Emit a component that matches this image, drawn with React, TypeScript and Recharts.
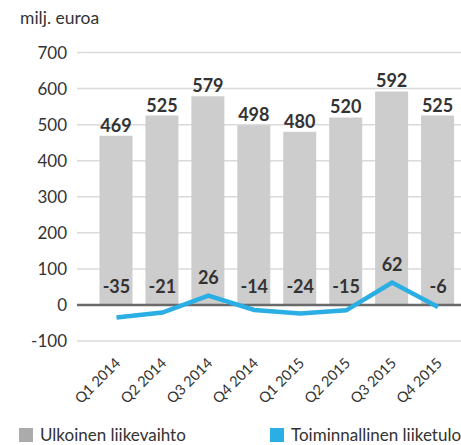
import React from 'react';
import {
  ComposedChart,
  Bar,
  Line,
  XAxis,
  YAxis,
  CartesianGrid,
  ReferenceLine,
  LabelList,
} from 'recharts';

const categories = ['Q1 2014', 'Q2 2014', 'Q3 2014', 'Q4 2014', 'Q1 2015', 'Q2 2015', 'Q3 2015', 'Q4 2015'];
const revenue = [469, 525, 579, 498, 480, 520, 592, 525];
const operatingProfit = [-35, -21, 26, -14, -24, -15, 62, -6];
const yTicks = [-100, 0, 100, 200, 300, 400, 500, 600, 700];
const unitLabel = 'milj. euroa';
const revenueName = 'Ulkoinen liikevaihto';
const profitName = 'Toiminnallinen liiketulos';

const data = categories.map((q, i) => ({ q, revenue: revenue[i], profit: operatingProfit[i] }));

const FONT = 'Lato, "Open Sans", sans-serif';
const W = 461;
const H = 445;
const PLOT_TOP = 52.5;
const PLOT_BOTTOM = 341;
const DOMAIN_MIN = -100;
const DOMAIN_MAX = 700;
const PX_PER_UNIT = (PLOT_BOTTOM - PLOT_TOP) / (DOMAIN_MAX - DOMAIN_MIN);

const BAR_COLOR = '#cdcdcd';
const LEGEND_GRAY = '#ababab';
const LINE_COLOR = '#2aaee4';
const TEXT = '#333333';

const XTick = (props: any) => {
  const { x, y, payload } = props;
  return (
    <g transform={`translate(${x + 5},${y + 23})`}>
      <text textAnchor="end" transform="rotate(-45)" fontSize={14.5} fill={TEXT} fontFamily={FONT}>
        {payload.value}
      </text>
    </g>
  );
};

const ProfitLabel = (props: any) => {
  const { x, y, value } = props;
  const zeroY = y + value * PX_PER_UNIT;
  const ly = Math.min(y, zeroY) - 19;
  return (
    <text
      x={x}
      y={ly}
      textAnchor="middle"
      dominantBaseline="central"
      fontSize={18}
      fontWeight={700}
      fill={TEXT}
      fontFamily={FONT}
    >
      {value}
    </text>
  );
};

export default function App() {
  return (
    <div
      style={{
        position: 'absolute',
        left: 0,
        top: 0,
        width: W,
        height: H,
        overflow: 'hidden',
        background: '#fff',
        fontFamily: FONT,
      }}
    >
      <div style={{ position: 'absolute', left: 20, top: 6, fontSize: 17.5, color: TEXT, lineHeight: '24px' }}>
        {unitLabel}
      </div>
      <ComposedChart
        width={W}
        height={H}
        data={data}
        margin={{ top: PLOT_TOP, right: 0, left: 0, bottom: H - PLOT_BOTTOM - 70 }}
        barSize={33}
      >
        <CartesianGrid vertical={false} stroke="#dadada" strokeWidth={1.5} />
        <XAxis
          dataKey="q"
          axisLine={false}
          tickLine={false}
          tickSize={0}
          tickMargin={0}
          height={70}
          interval={0}
          padding={{ left: 16.5, right: 0 }}
          tick={<XTick />}
        />
        <YAxis
          domain={[DOMAIN_MIN, DOMAIN_MAX]}
          ticks={yTicks}
          axisLine={false}
          tickLine={false}
          width={77}
          tickMargin={4}
          tick={{ fontSize: 17, fill: TEXT, fontFamily: FONT }}
        />
        <Bar dataKey="revenue" fill={BAR_COLOR} isAnimationActive={false}>
          <LabelList
            dataKey="revenue"
            position="top"
            offset={4}
            style={{ fontSize: 18, fontWeight: 700, fill: TEXT, fontFamily: FONT }}
          />
        </Bar>
        <ReferenceLine y={0} stroke="#6a6a6a" strokeWidth={2.5} />
        <Line
          dataKey="profit"
          stroke={LINE_COLOR}
          strokeWidth={4.5}
          dot={false}
          activeDot={false}
          type="linear"
          isAnimationActive={false}
        >
          <LabelList dataKey="profit" content={<ProfitLabel />} />
        </Line>
      </ComposedChart>
      <div style={{ position: 'absolute', left: 19, top: 425, display: 'flex', alignItems: 'center', whiteSpace: 'nowrap', height: 20 }}>
        <span style={{ width: 14, height: 14, background: LEGEND_GRAY, display: 'inline-block' }} />
        <span style={{ marginLeft: 7, fontSize: 17, color: TEXT, lineHeight: '20px' }}>{revenueName}</span>
      </div>
      <div style={{ position: 'absolute', left: 270, top: 425, display: 'flex', alignItems: 'center', whiteSpace: 'nowrap', height: 20 }}>
        <span style={{ width: 14, height: 14, background: LINE_COLOR, display: 'inline-block' }} />
        <span style={{ marginLeft: 7, fontSize: 17, color: TEXT, lineHeight: '20px' }}>{profitName}</span>
      </div>
    </div>
  );
}
